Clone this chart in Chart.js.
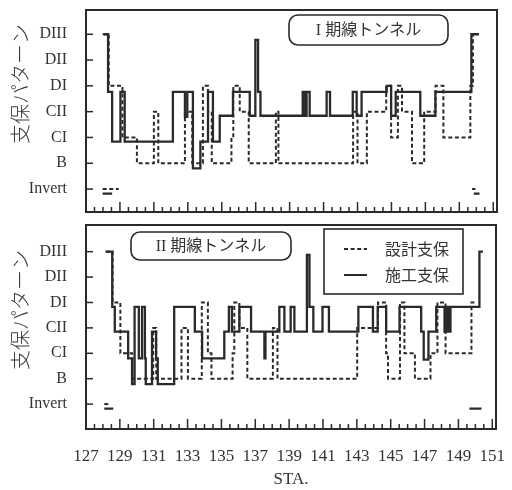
<!DOCTYPE html>
<html>
<head>
<meta charset="utf-8">
<script src="https://cdn.jsdelivr.net/npm/chart.js@4.4.1/dist/chart.umd.min.js"></script>
<style>
    html, body { margin: 0; padding: 0; background: #fff; }
    #wrap { position: relative; width: 512px; height: 490px; }
    .panel { position: absolute; left: 0; width: 512px; }
</style>
</head>
<body>
<div id="wrap">
    <div class="panel" style="top:0;height:220px"><canvas id="topChart" width="512" height="220"></canvas></div>
    <div class="panel" style="top:220px;height:270px"><canvas id="bottomChart" width="512" height="270"></canvas></div>
</div>
<script>
// axis labels
const staTicks = [127, 129, 131, 133, 135, 137, 139, 141, 143, 145, 147, 149, 151];
const levelLabels = ['Invert', 'B', 'CI', 'CII', 'DI', 'DII', 'DIII'];

// I期線 - design (dashed)
const topDesignSta = [127.98, 128.34, 129.15, 130.0, 131.0, 131.26, 132.83, 133.26, 133.89, 134.19, 134.41, 135.57,
    135.68, 136.06, 136.59, 138.19, 138.34, 142.74, 143.0, 143.55, 144.69, 144.98, 145.38, 145.62, 146.21, 146.93,
    147.6, 148.06, 149.65, 149.8, 149.98];
const topDesignLevel = [6, 4, 2, 1, 3, 1, 3, 1, 4, 3, 1, 2, 4, 3, 1, 3, 1, 3, 1, 3, 4, 2, 4, 3, 1, 3, 4, 2, 4, 6, 6];

// I期線 - construction (solid)
const topBuiltSta = [128.04, 128.3, 128.54, 129.03, 129.28, 132.12, 132.83, 132.97, 133.3, 133.74, 134.19, 134.48,
    134.88, 135.66, 136.65, 136.98, 137.14, 137.28, 139.77, 139.9, 140.0, 140.18, 141.18, 141.38, 142.72, 142.95,
    143.24, 144.72, 144.98, 145.25, 146.7, 147.59, 149.71, 150.16];
const topBuiltLevel = [6.0, 3.77, 1.84, 3.77, 1.84, 3.77, 2.8, 3.77, 0.8, 1.84, 3.77, 1.84, 2.84, 3.77, 2.84, 5.78,
    3.77, 2.84, 3.77, 2.84, 3.77, 2.84, 3.77, 2.84, 3.77, 2.84, 3.77, 4.0, 2.84, 3.77, 2.84, 3.77, 6.0, 6.0];

// II期線 - design (dashed)
const botDesignSta = [128.17, 128.57, 129.03, 129.72, 130.97, 131.15, 132.64, 133.02, 133.84, 134.2, 134.41, 135.66,
    135.76, 136.06, 136.53, 138.04, 138.31, 143.02, 144.25, 144.73, 144.84, 145.55, 145.81, 146.43, 147.35, 147.76,
    148.24, 149.77, 150.01];
const botDesignLevel = [6, 4, 2, 1, 3, 1, 3, 1, 4, 2, 1, 2, 4, 3, 1, 3, 1, 3, 4, 2, 1, 4, 2, 1, 2, 4, 2, 4, 4];

// II期線 - construction (solid)
const botBuiltSta = [128.16, 128.55, 128.7, 129.49, 129.72, 129.87, 130.12, 130.31, 130.48, 130.53, 130.9, 131.14,
    131.24, 132.21, 133.43, 133.86, 135.17, 135.44, 135.62, 136.06, 136.75, 137.54, 137.6, 138.42, 138.72, 139.09,
    139.31, 140.05, 140.2, 140.43, 140.97, 141.35, 143.09, 143.95, 144.23, 144.73, 145.52, 146.8, 146.95, 147.23,
    147.69, 148.18, 148.29, 148.41, 148.53, 150.24, 150.45];
const botBuiltLevel = [6.0, 3.83, 2.85, 1.8, 0.79, 3.83, 1.8, 3.83, 1.8, 0.79, 2.85, 1.8, 0.79, 3.83, 2.85, 1.8,
    2.85, 3.83, 2.85, 3.83, 2.85, 1.8, 2.85, 3.83, 2.85, 3.83, 2.85, 5.87, 3.83, 2.85, 3.83, 2.85, 3.83, 2.85, 3.83,
    2.85, 3.83, 2.85, 1.75, 2.85, 3.83, 2.85, 3.83, 2.85, 3.83, 6.0, 6.0];

// Invert marks: [start, end] pairs
const topDesignInvert = [[127.98, 128.93], [149.75, 149.95]];
const topBuiltInvert = [[127.98, 128.54], [149.85, 150.19]];
const botDesignInvert = [[128.08, 128.35]];
const botBuiltInvert = [[128.08, 128.61], [149.65, 150.36]];
const invertDesignLevel = 0;
const invertBuiltLevel = -0.18;

const INK = '#2a2a2a';
const DASH = [4, 2.6];
const serif = '"Liberation Serif", "DejaVu Serif", serif';
const jp = '"Noto Sans CJK JP", sans-serif';

function toPoints(sta, level) {
    return sta.map((s, i) => ({ x: s, y: level[i] }));
}

function segmentPoints(pairs, level) {
    const pts = [];
    pairs.forEach((p, i) => {
        if (i > 0) pts.push({ x: (pairs[i - 1][1] + p[0]) / 2, y: null });
        pts.push({ x: p[0], y: level }, { x: p[1], y: level });
    });
    return pts;
}

function line(ctx, x1, y1, x2, y2) {
    ctx.beginPath();
    ctx.moveTo(x1, y1);
    ctx.lineTo(x2, y2);
    ctx.stroke();
}

function roundBox(ctx, x, y, w, h, r) {
    ctx.beginPath();
    ctx.roundRect(x, y, w, h, r);
    ctx.stroke();
}

// frame, inward ticks, y title, label boxes, legend
const decorPlugin = {
    id: 'decor',
    afterDraw(chart, args, o) {
        const ctx = chart.ctx;
        const a = chart.chartArea;
        const xs = chart.scales.x;
        const ys = chart.scales.y;
        ctx.save();
        ctx.strokeStyle = INK;
        ctx.fillStyle = '#333';
        ctx.setLineDash([]);

        ctx.lineWidth = 2;
        ctx.strokeRect(a.left, a.top, a.right - a.left, a.bottom - a.top);

        ctx.lineWidth = 1.5;
        for (let v = staTicks[0]; v <= staTicks[staTicks.length - 1]; v += 0.5) {
            const px = xs.getPixelForValue(v);
            const major = staTicks.includes(v);
            line(ctx, px, a.bottom, px, a.bottom - (major ? 10 : 5));
        }
        levelLabels.forEach((_, i) => {
            const py = ys.getPixelForValue(i);
            line(ctx, a.left, py, a.left + 7, py);
        });

        // y title
        ctx.save();
        ctx.translate(20, o.titleY);
        ctx.rotate(-Math.PI / 2);
        ctx.font = '300 20px ' + jp;
        ctx.textAlign = 'center';
        ctx.textBaseline = 'middle';
        ctx.fillStyle = '#3a3a3a';
        ctx.fillText('支保パターン', 0, 0);
        ctx.restore();

        // tunnel name box
        const b = o.nameBox;
        ctx.lineWidth = 1.6;
        roundBox(ctx, b.x, b.y, b.w, b.h, 9);
        ctx.font = '16px ' + serif + ', ' + jp;
        ctx.textAlign = 'center';
        ctx.textBaseline = 'middle';
        ctx.fillText(b.text, b.x + b.w / 2, b.y + b.h / 2 + 1);

        // legend
        if (o.legend) {
            const L = o.legend;
            ctx.lineWidth = 1.6;
            ctx.strokeRect(L.x, L.y, L.w, L.h);
            const items = chart.data.datasets.slice(0, 2);
            items.forEach((ds, i) => {
                const yy = L.y + 20 + i * 26;
                ctx.lineWidth = 2;
                ctx.setLineDash(ds.borderDash || []);
                line(ctx, L.x + 20, yy, L.x + 43, yy);
                ctx.setLineDash([]);
                ctx.font = '16px ' + jp;
                ctx.textAlign = 'left';
                ctx.fillText(ds.label, L.x + 61, yy);
            });
        }
        ctx.restore();
    }
};

function makeChart(id, cfg) {
    const showX = cfg.showX;
    return new Chart(document.getElementById(id), {
        type: 'line',
        data: {
            datasets: [
                {
                    label: '設計支保',
                    data: toPoints(cfg.designSta, cfg.designLevel),
                    borderColor: INK,
                    borderWidth: 2,
                    borderDash: DASH,
                    stepped: true,
                    pointRadius: 0,
                    fill: false,
                },
                {
                    label: '施工支保',
                    data: toPoints(cfg.builtSta, cfg.builtLevel),
                    borderColor: INK,
                    borderWidth: 2.3,
                    stepped: true,
                    pointRadius: 0,
                    fill: false,
                },
                {
                    label: 'design invert',
                    data: segmentPoints(cfg.designInvert, invertDesignLevel),
                    borderColor: INK,
                    borderWidth: 2,
                    borderDash: DASH,
                    pointRadius: 0,
                    spanGaps: false,
                },
                {
                    label: 'built invert',
                    data: segmentPoints(cfg.builtInvert, invertBuiltLevel),
                    borderColor: INK,
                    borderWidth: 2.3,
                    pointRadius: 0,
                    spanGaps: false,
                },
            ],
        },
        options: {
            responsive: false,
            animation: false,
            layout: { padding: cfg.padding },
            plugins: {
                legend: { display: false },
                tooltip: { enabled: false },
                decor: cfg.decor,
            },
            scales: {
                x: {
                    type: 'linear',
                    min: 127,
                    max: 151.22,
                    display: showX,
                    grid: { display: false, drawTicks: false },
                    border: { display: false },
                    afterBuildTicks: (s) => { s.ticks = staTicks.map((v) => ({ value: v })); },
                    afterFit: (s) => {
                        if (showX) s.height = 61;
                        s.paddingLeft = 0;
                        s.paddingRight = 0;
                    },
                    ticks: {
                        autoSkip: false,
                        maxRotation: 0,
                        padding: 17,
                        color: '#333',
                        font: { family: serif, size: 17 },
                    },
                    title: {
                        display: showX,
                        text: 'STA.',
                        color: '#333',
                        padding: 0,
                        font: { family: serif, size: 17 },
                    },
                },
                y: {
                    type: 'linear',
                    min: cfg.yMin,
                    max: cfg.yMax,
                    grid: { display: false, drawTicks: false },
                    border: { display: false },
                    afterBuildTicks: (s) => { s.ticks = levelLabels.map((_, i) => ({ value: i })); },
                    afterFit: (s) => {
                        s.width = 86;
                        s.paddingTop = 0;
                        s.paddingBottom = 0;
                    },
                    ticks: {
                        padding: 19,
                        color: '#333',
                        font: { family: serif, size: 16 },
                        callback: (v) => levelLabels[v],
                    },
                },
            },
        },
        plugins: [decorPlugin],
    });
}

makeChart('topChart', {
    designSta: topDesignSta, designLevel: topDesignLevel,
    builtSta: topBuiltSta, builtLevel: topBuiltLevel,
    designInvert: topDesignInvert, builtInvert: topBuiltInvert,
    showX: false,
    yMin: -0.89, yMax: 6.94,
    padding: { top: 10, right: 15, bottom: 8, left: 0 },
    decor: {
        titleY: 84,
        nameBox: { x: 289, y: 15, w: 159, h: 30, text: 'I 期線トンネル' },
    },
});

makeChart('bottomChart', {
    designSta: botDesignSta, designLevel: botDesignLevel,
    builtSta: botBuiltSta, builtLevel: botBuiltLevel,
    designInvert: botDesignInvert, builtInvert: botBuiltInvert,
    showX: true,
    yMin: -0.98, yMax: 7.05,
    padding: { top: 5, right: 16, bottom: 0, left: 0 },
    decor: {
        titleY: 90,
        nameBox: { x: 131, y: 12, w: 160, h: 28, text: 'II 期線トンネル' },
        legend: { x: 324, y: 9, w: 139, h: 65 },
    },
});
</script>
</body>
</html>
